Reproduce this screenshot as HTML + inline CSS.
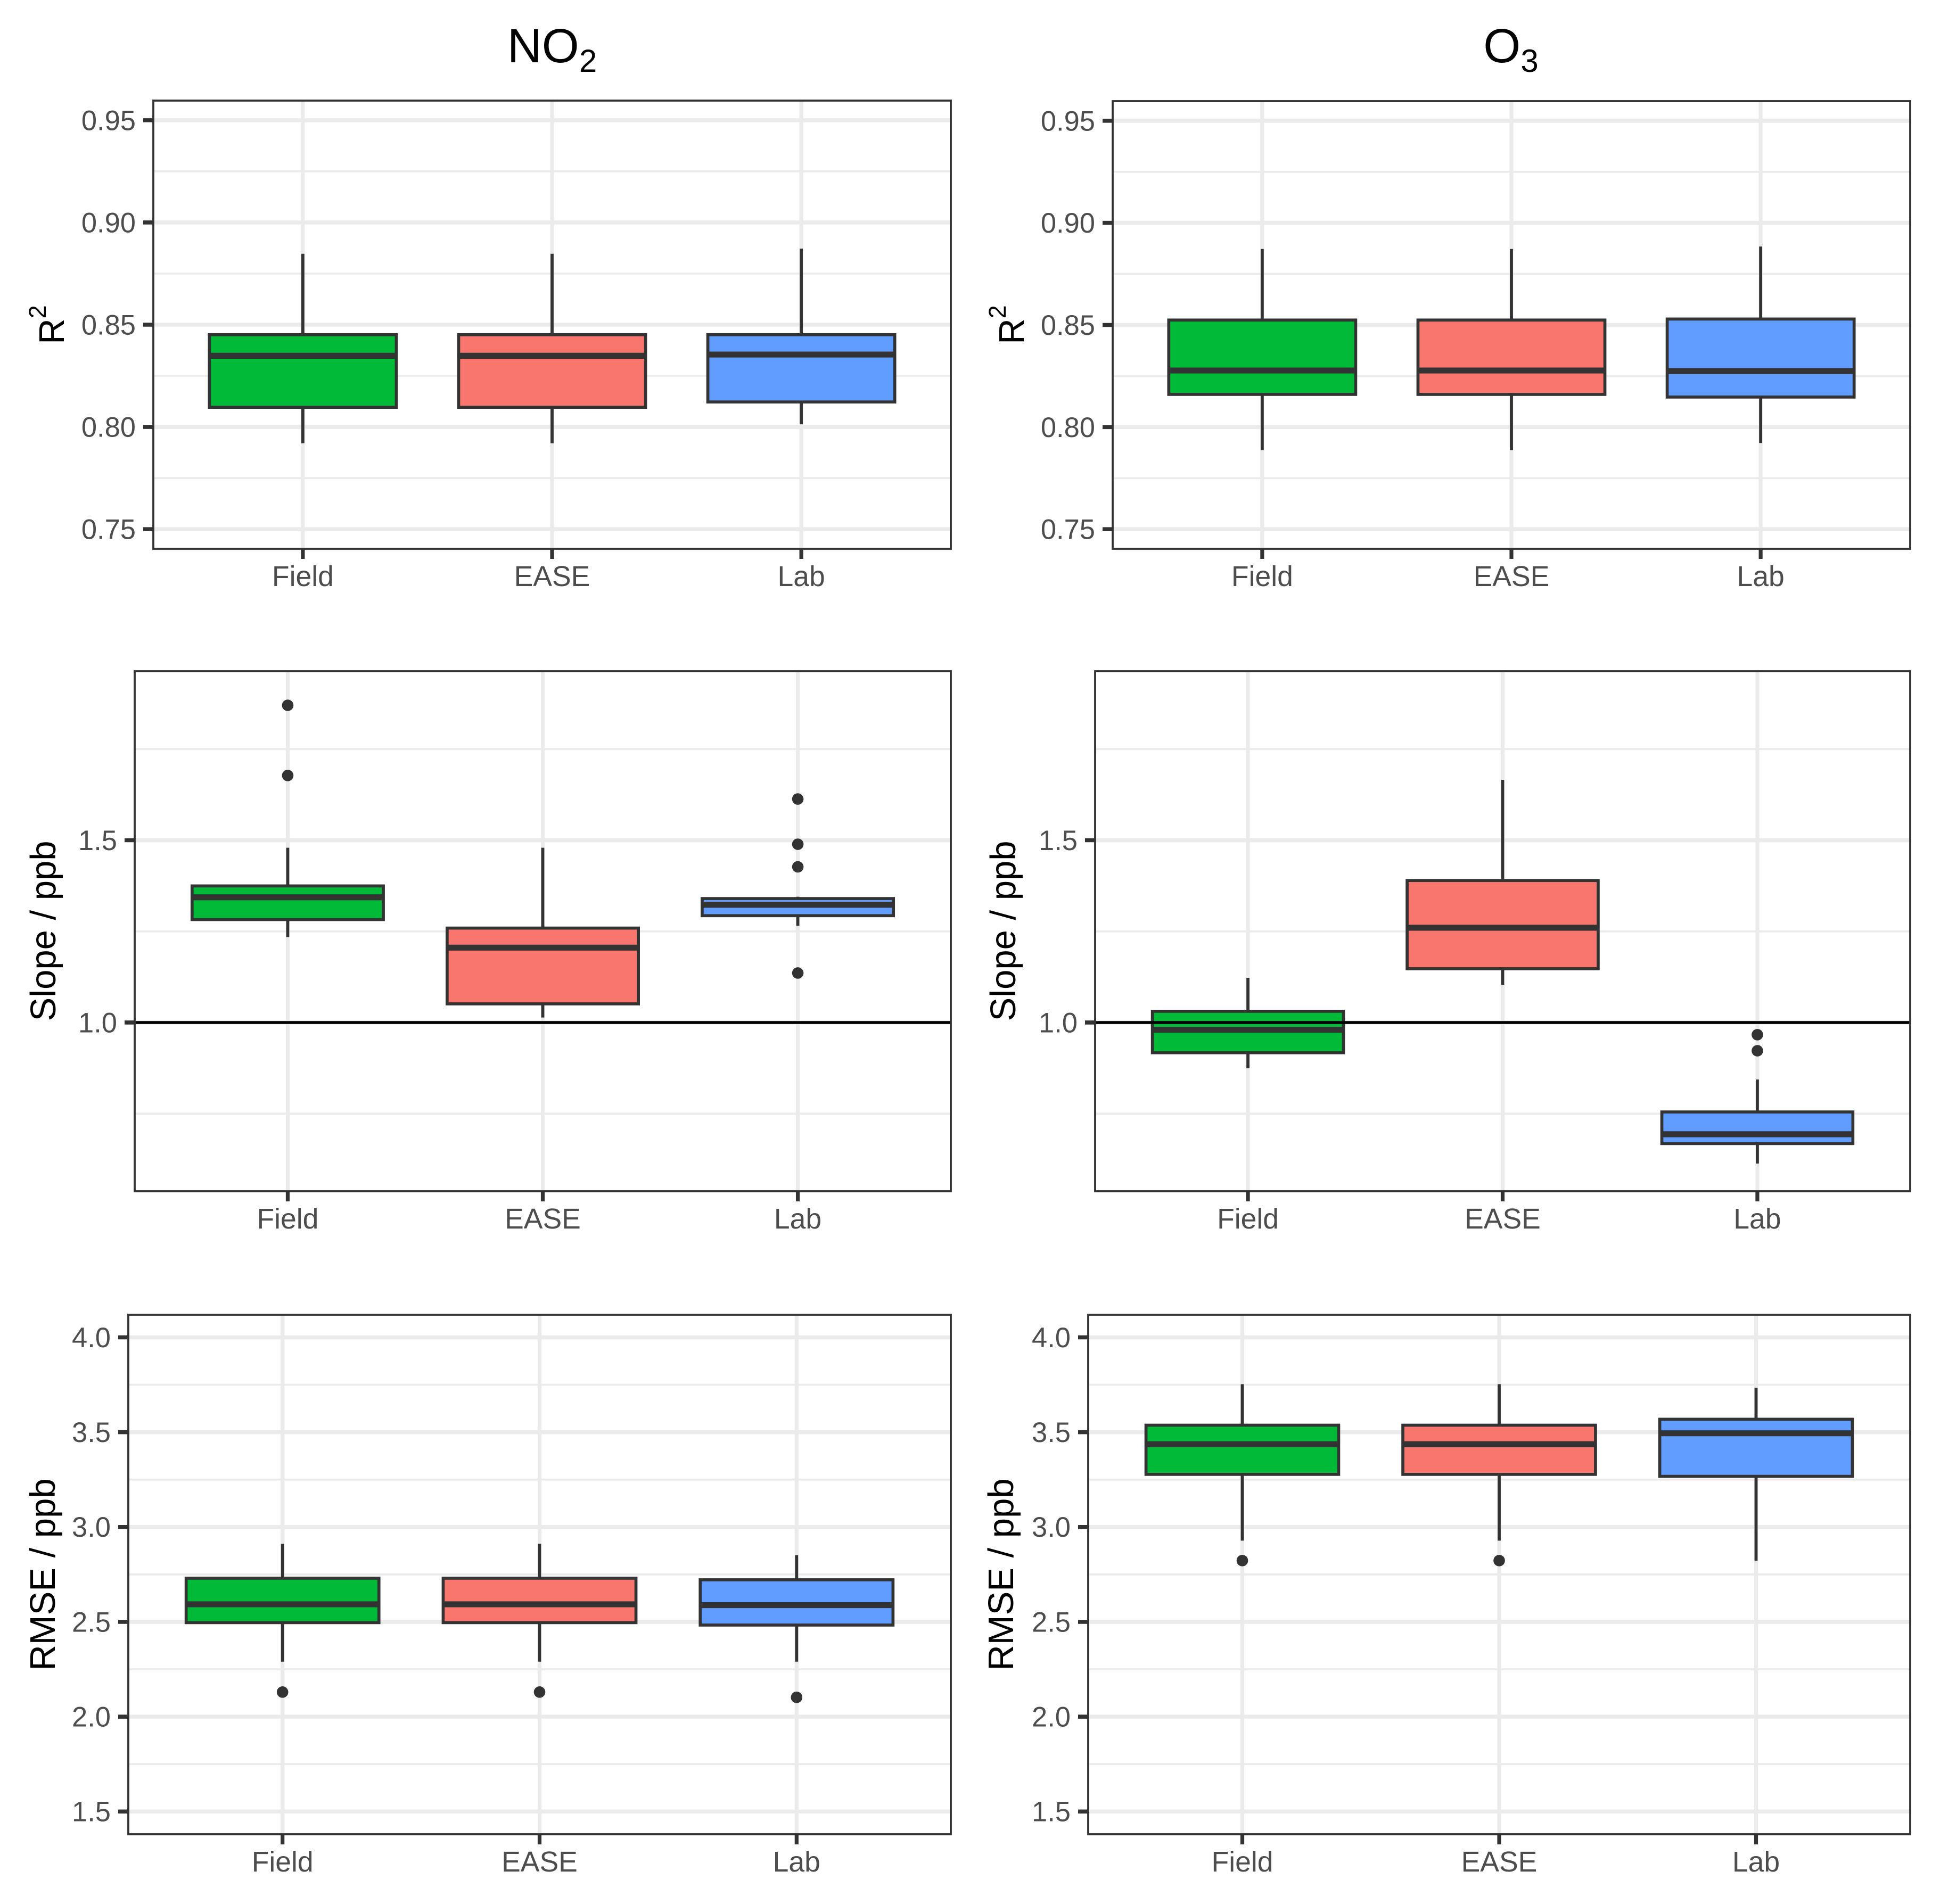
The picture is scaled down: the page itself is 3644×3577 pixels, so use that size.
<!DOCTYPE html>
<html lang="en">
<head>
<meta charset="utf-8">
<title>NO2 and O3 sensor calibration boxplots</title>
<style>
  html, body { margin: 0; padding: 0; background: #fff; }
  svg { display: block; font-family: "Liberation Sans", Arial, sans-serif; }
  .tick-label { fill: #4D4D4D; }
  .y-label { font-size: 52.5px; }
  .x-label { font-size: 53.5px; }
  .axis-title { fill: #000; font-size: 67px; }
  .col-title { fill: #000; font-size: 90px; }
</style>
</head>
<body>
<svg id="figure" xmlns="http://www.w3.org/2000/svg" width="3644" height="3577" viewBox="0 0 3644 3577">
  <rect x="0" y="0" width="3644" height="3577" fill="#fff"></rect>
  <text class="col-title" x="1037" y="117" text-anchor="middle">NO<tspan font-size="60" dy="18">2</tspan></text>
  <text class="col-title" x="2838" y="117" text-anchor="middle">O<tspan font-size="60" dy="18">3</tspan></text>
  <g id="panels"></g>
  <text class="axis-title" transform="translate(120 610) rotate(-90)" text-anchor="middle">R<tspan font-size="45" dy="-34">2</tspan></text>
  <text class="axis-title" transform="translate(1923 610) rotate(-90)" text-anchor="middle">R<tspan font-size="45" dy="-34">2</tspan></text>
  <text class="axis-title" transform="translate(104 1749) rotate(-90)" text-anchor="middle">Slope / ppb</text>
  <text class="axis-title" transform="translate(1907 1749) rotate(-90)" text-anchor="middle">Slope / ppb</text>
  <text class="axis-title" transform="translate(103 2958) rotate(-90)" text-anchor="middle">RMSE / ppb</text>
  <text class="axis-title" transform="translate(1903 2958) rotate(-90)" text-anchor="middle">RMSE / ppb</text>
</svg>
<script>
// Shared categories and tick values
const categories = ['Field', 'EASE', 'Lab'];
const boxColors = ['#00BA38', '#F8766D', '#619CFF'];
const r2Ticks = ['0.75', '0.80', '0.85', '0.90', '0.95'];
const r2MinorTicks = [0.775, 0.825, 0.875, 0.925];
const slopeTicks = ['1.0', '1.5'];
const slopeMinorTicks = [0.75, 1.25, 1.75];
const rmseTicks = ['1.5', '2.0', '2.5', '3.0', '3.5', '4.0'];
const rmseMinorTicks = [1.75, 2.25, 2.75, 3.25, 3.75];

// NO2 R2
const no2R2Lower = [0.792, 0.792, 0.8013];
const no2R2Q1 = [0.8096, 0.8096, 0.8122];
const no2R2Median = [0.8348, 0.8348, 0.8354];
const no2R2Q3 = [0.8451, 0.8451, 0.8451];
const no2R2Upper = [0.8847, 0.8847, 0.8872];
const no2R2Outliers = [[], [], []];

// O3 R2
const o3R2Lower = [0.7887, 0.7887, 0.7922];
const o3R2Q1 = [0.816, 0.816, 0.8147];
const o3R2Median = [0.8277, 0.8277, 0.8274];
const o3R2Q3 = [0.8524, 0.8524, 0.8529];
const o3R2Upper = [0.8872, 0.8872, 0.8884];
const o3R2Outliers = [[], [], []];

// NO2 slope
const no2SlopeLower = [1.2343, 1.0137, 1.2654];
const no2SlopeQ1 = [1.2824, 1.0512, 1.293];
const no2SlopeMedian = [1.3434, 1.2054, 1.323];
const no2SlopeQ3 = [1.3746, 1.259, 1.34];
const no2SlopeUpper = [1.4794, 1.4794, 1.345];
const no2SlopeOutliers = [[1.87, 1.6775], [], [1.613, 1.489, 1.427, 1.1358]];

// O3 slope
const o3SlopeLower = [0.8747, 1.1036, 0.6133];
const o3SlopeQ1 = [0.9172, 1.1476, 0.668];
const o3SlopeMedian = [0.98, 1.26, 0.6936];
const o3SlopeQ3 = [1.0308, 1.3895, 0.7547];
const o3SlopeUpper = [1.1226, 1.6657, 0.8438];
const o3SlopeOutliers = [[], [], [0.9666, 0.9226]];

// NO2 RMSE
const no2RmseLower = [2.29, 2.29, 2.29];
const no2RmseQ1 = [2.4958, 2.4958, 2.483];
const no2RmseMedian = [2.5925, 2.5925, 2.588];
const no2RmseQ3 = [2.73, 2.73, 2.7216];
const no2RmseUpper = [2.9115, 2.9115, 2.852];
const no2RmseOutliers = [[2.1297], [2.1297], [2.102]];

// O3 RMSE
const o3RmseLower = [2.928, 2.928, 2.822];
const o3RmseQ1 = [3.2775, 3.2775, 3.267];
const o3RmseMedian = [3.4366, 3.4366, 3.494];
const o3RmseQ3 = [3.5367, 3.5367, 3.568];
const o3RmseUpper = [3.753, 3.753, 3.734];
const o3RmseOutliers = [[2.823], [2.823], []];

const SVG_NS = 'http://www.w3.org/2000/svg';
const root = document.getElementById('panels');

function make(parent, tag, attrs) {
  const el = document.createElementNS(SVG_NS, tag);
  for (const k in attrs) el.setAttribute(k, attrs[k]);
  parent.appendChild(el);
  return el;
}

function drawPanel(cfg) {
  const xScale = i => cfg.left + (0.6 + i) * (cfg.right - cfg.left) / 3.2;
  const yScale = v => cfg.bottom - (v - cfg.yMin) / (cfg.yMax - cfg.yMin) * (cfg.bottom - cfg.top);
  const halfBox = 0.375 * (cfg.right - cfg.left) / 3.2;

  const g = make(root, 'g', {});
  
  

  cfg.minor.forEach(v => {
    const el = make(g, 'line', { x1: cfg.left, x2: cfg.right, y1: yScale(v), y2: yScale(v), stroke: '#EBEBEB', 'stroke-width': 3.8 });
    
    
  });
  cfg.ticks.forEach(t => {
    const v = parseFloat(t);
    const el = make(g, 'line', { x1: cfg.left, x2: cfg.right, y1: yScale(v), y2: yScale(v), stroke: '#EBEBEB', 'stroke-width': 7.6 });
    
    
  });
  categories.forEach((c, i) => {
    const el = make(g, 'line', { x1: xScale(i), x2: xScale(i), y1: cfg.top, y2: cfg.bottom, stroke: '#EBEBEB', 'stroke-width': 7.2 });
    
    
  });

  categories.forEach((c, i) => {
    const x = xScale(i);
    const box = make(g, 'g', {});
    
    

    const upper = make(box, 'line', { x1: x, x2: x, y1: yScale(cfg.upper[i]), y2: yScale(cfg.q3[i]), stroke: '#333', 'stroke-width': 5.8 });
    
    

    const lower = make(box, 'line', { x1: x, x2: x, y1: yScale(cfg.q1[i]), y2: yScale(cfg.lower[i]), stroke: '#333', 'stroke-width': 5.8 });
    
    

    const rect = make(box, 'rect', { x: x - halfBox, y: yScale(cfg.q3[i]), width: 2 * halfBox, height: yScale(cfg.q1[i]) - yScale(cfg.q3[i]), fill: boxColors[i], stroke: '#333', 'stroke-width': 5.7 });
    
    

    const med = make(box, 'line', { x1: x - halfBox, x2: x + halfBox, y1: yScale(cfg.median[i]), y2: yScale(cfg.median[i]), stroke: '#333', 'stroke-width': 11.2 });
    
    

    cfg.outliers[i].forEach(v => {
      const dot = make(box, 'circle', { cx: x, cy: yScale(v), r: 10.8, fill: '#333' });
      
      
    });
  });

  if (cfg.refLine !== undefined) {
    const ref = make(g, 'line', { x1: cfg.left, x2: cfg.right, y1: yScale(cfg.refLine), y2: yScale(cfg.refLine), stroke: '#000', 'stroke-width': 5.5 });
    
    
  }

  const border = make(g, 'rect', { x: cfg.left, y: cfg.top, width: cfg.right - cfg.left, height: cfg.bottom - cfg.top, fill: 'none', stroke: '#333', 'stroke-width': 3.8 });
  
  

  cfg.ticks.forEach(t => {
    const y = yScale(parseFloat(t));
    const mark = make(g, 'line', { x1: cfg.left - 19, x2: cfg.left, y1: y, y2: y, stroke: '#333', 'stroke-width': 7.6 });
    
    

    const label = make(g, 'text', { class: 'tick-label y-label', x: cfg.left - 33, y: y + 18.5, 'text-anchor': 'end' });
    label.textContent = t;
    
    
  });

  categories.forEach((c, i) => {
    const x = xScale(i);
    const mark = make(g, 'line', { x1: x, x2: x, y1: cfg.bottom, y2: cfg.bottom + 19, stroke: '#333', 'stroke-width': 7.2 });
    
    

    const label = make(g, 'text', { class: 'tick-label x-label', x: x, y: cfg.bottom + 70, 'text-anchor': 'middle' });
    label.textContent = c;
    
    
  });
}

drawPanel({ name: 'no2-r2', left: 288, right: 1786, top: 189, bottom: 1031, yMin: 0.7404, yMax: 0.9596, ticks: r2Ticks, minor: r2MinorTicks,
  lower: no2R2Lower, q1: no2R2Q1, median: no2R2Median, q3: no2R2Q3, upper: no2R2Upper, outliers: no2R2Outliers });
drawPanel({ name: 'o3-r2', left: 2090, right: 3588, top: 190, bottom: 1031, yMin: 0.7404, yMax: 0.9596, ticks: r2Ticks, minor: r2MinorTicks,
  lower: o3R2Lower, q1: o3R2Q1, median: o3R2Median, q3: o3R2Q3, upper: o3R2Upper, outliers: o3R2Outliers });
drawPanel({ name: 'no2-slope', left: 253, right: 1786, top: 1261, bottom: 2238, yMin: 0.5372, yMax: 1.9635, ticks: slopeTicks, minor: slopeMinorTicks, refLine: 1,
  lower: no2SlopeLower, q1: no2SlopeQ1, median: no2SlopeMedian, q3: no2SlopeQ3, upper: no2SlopeUpper, outliers: no2SlopeOutliers });
drawPanel({ name: 'o3-slope', left: 2057, right: 3588, top: 1261, bottom: 2238, yMin: 0.5372, yMax: 1.9635, ticks: slopeTicks, minor: slopeMinorTicks, refLine: 1,
  lower: o3SlopeLower, q1: o3SlopeQ1, median: o3SlopeMedian, q3: o3SlopeQ3, upper: o3SlopeUpper, outliers: o3SlopeOutliers });
drawPanel({ name: 'no2-rmse', left: 241, right: 1786, top: 2470, bottom: 3446, yMin: 1.38, yMax: 4.119, ticks: rmseTicks, minor: rmseMinorTicks,
  lower: no2RmseLower, q1: no2RmseQ1, median: no2RmseMedian, q3: no2RmseQ3, upper: no2RmseUpper, outliers: no2RmseOutliers });
drawPanel({ name: 'o3-rmse', left: 2044, right: 3588, top: 2470, bottom: 3446, yMin: 1.38, yMax: 4.119, ticks: rmseTicks, minor: rmseMinorTicks,
  lower: o3RmseLower, q1: o3RmseQ1, median: o3RmseMedian, q3: o3RmseQ3, upper: o3RmseUpper, outliers: o3RmseOutliers });
</script>
</body>
</html>
